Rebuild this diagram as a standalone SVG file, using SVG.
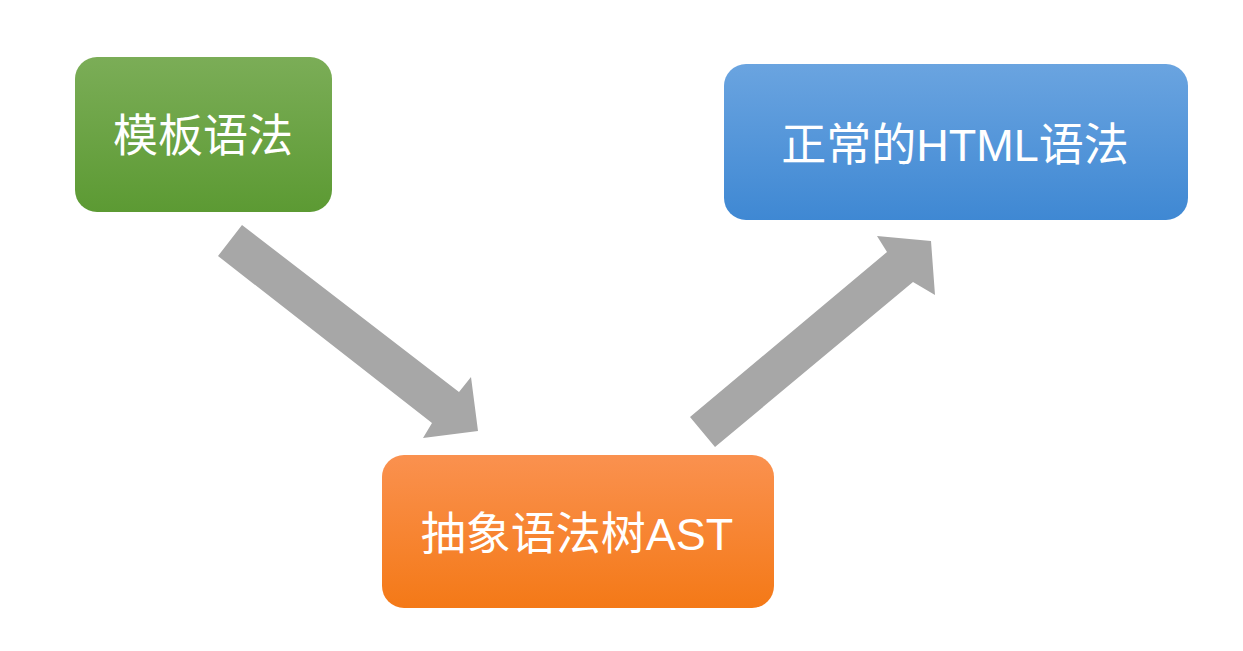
<svg xmlns="http://www.w3.org/2000/svg" width="1243" height="651" viewBox="0 0 1243 651">
<defs>
<linearGradient id="gGreen" x1="0" y1="0" x2="0" y2="1">
<stop offset="0" stop-color="#7bad57"/><stop offset="1" stop-color="#5c9a33"/>
</linearGradient>
<linearGradient id="gBlue" x1="0" y1="0" x2="0" y2="1">
<stop offset="0" stop-color="#6aa4e0"/><stop offset="1" stop-color="#3f88d3"/>
</linearGradient>
<linearGradient id="gOrange" x1="0" y1="0" x2="0" y2="1">
<stop offset="0" stop-color="#fa914f"/><stop offset="1" stop-color="#f47917"/>
</linearGradient>
</defs>
<style>
.lbl{fill:#ffffff;font-family:"Liberation Sans","Noto Sans CJK SC",sans-serif;font-size:45px;text-anchor:middle}
.arrow{fill:#a7a7a7}
</style>
<rect width="1243" height="651" fill="#ffffff"/>
<g id="connectors">
<polygon class="arrow" points="242,225 459,392 471,377 478,431 423,438 432,423 218,256"/>
<polygon class="arrow" points="690,417 887,252 877,236 931,241 935,295 913,282 715,447"/>
</g>
<g id="node-template">
<rect x="75" y="57" width="257" height="155" rx="22" fill="url(#gGreen)"/>
<text class="lbl" x="203" y="152">模板语法</text>
</g>
<g id="node-html">
<rect x="724" y="64" width="464" height="156" rx="22" fill="url(#gBlue)"/>
<text class="lbl" x="955" y="161">正常的HTML语法</text>
</g>
<g id="node-ast">
<rect x="382" y="455" width="392" height="153" rx="22" fill="url(#gOrange)"/>
<text class="lbl" x="577" y="550">抽象语法树AST</text>
</g>
</svg>
